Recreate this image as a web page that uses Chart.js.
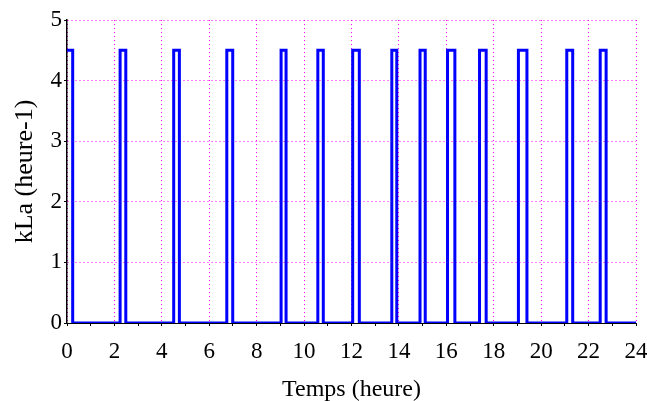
<html lang="fr"><head>
<meta charset="UTF-8">
<title>kLa</title>
<script src="https://cdn.jsdelivr.net/npm/chart.js"></script>
<style>
  body { margin: 0; background: #fff; overflow: hidden; }
  .wrap { width: 647px; height: 401px; }
</style>
</head>
<body>
<div class="wrap"><canvas id="kla"></canvas></div>
<script>
  // on/off aeration pulses (hours) and the kLa level while on
  const pulseStart = [0, 2.24, 4.50, 6.74, 9.03, 10.58, 12.05, 13.70, 14.89, 16.05, 17.40, 19.04, 21.08, 22.49];
  const pulseEnd   = [0.24, 2.48, 4.74, 6.99, 9.24, 10.81, 12.33, 13.91, 15.11, 16.36, 17.68, 19.40, 21.33, 22.74];
  const kLaOn = 4.5;
  const kLaOff = 0;
  const tEnd = 24;

  // build step points from the pulses
  const points = [];
  pulseStart.forEach((s, i) => {
    if (i > 0 || s > 0) points.push({ x: s, y: kLaOff });
    else points.push({ x: 0, y: kLaOn });
    points.push({ x: s, y: kLaOn });
    points.push({ x: pulseEnd[i], y: kLaOff });
  });
  points.push({ x: tEnd, y: kLaOff });

  const serif = 'Liberation Serif, Times New Roman, serif';
  const magenta = '#ff00ff';

  new Chart(document.getElementById('kla'), {
    type: 'line',
    data: {
      datasets: [{
        data: points,
        stepped: 'before',
        borderColor: '#0000ff',
        borderWidth: 3,
        pointRadius: 0,
        fill: false
      }]
    },
    options: {
      responsive: true,
      maintainAspectRatio: false,
      animation: false,
      layout: { padding: { top: 20, right: 11, left: 0, bottom: 0 } },
      plugins: { legend: { display: false }, tooltip: { enabled: false } },
      scales: {
        x: {
          type: 'linear',
          min: 0, max: 24,
          // fixed box, no extra room for the end labels
          afterFit: s => { s.height = 78; s.paddingLeft = 0; s.paddingRight = 0; },
          ticks: {
            stepSize: 1,
            autoSkip: false,
            maxRotation: 0,
            color: '#000',
            padding: 12,
            font: { family: serif, size: 23 },
            callback: v => (v % 2 === 0 ? v : '')
          },
          grid: {
            color: ctx => (ctx.tick && ctx.tick.value % 2 === 0 ? magenta : 'rgba(0,0,0,0)'),
            lineWidth: 1,
            tickColor: '#000',
            tickLength: 3
          },
          border: { display: true, color: '#000', width: 1, dash: [1, 3] },
          title: {
            display: true,
            text: 'Temps (heure)',
            color: '#000',
            font: { family: serif, size: 24 },
            padding: { top: 4, bottom: -3 }
          }
        },
        y: {
          min: 0, max: 5,
          afterFit: s => { s.width = 67; s.paddingTop = 0; s.paddingBottom = 0; },
          ticks: {
            stepSize: 1,
            color: '#000',
            padding: 2,
            font: { family: serif, size: 23 }
          },
          grid: {
            color: magenta,
            lineWidth: 1,
            tickColor: '#000',
            tickLength: 3
          },
          border: { display: true, color: '#000', width: 1.5, dash: [1, 3] },
          title: {
            display: true,
            text: 'kLa (heure-1)',
            color: '#000',
            font: { family: serif, size: 26 },
            padding: { top: 10, bottom: 0 }
          }
        }
      }
    }
  });
</script>
</body></html>
